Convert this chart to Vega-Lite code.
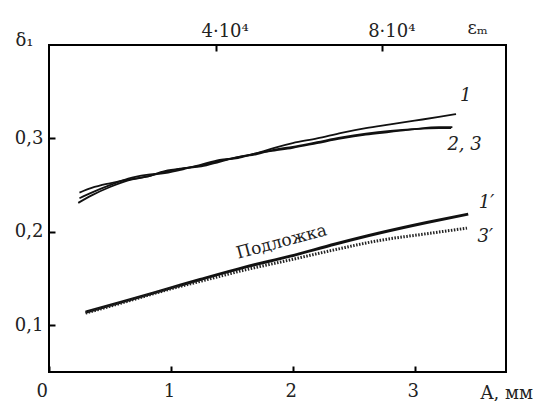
{
  "$schema": "https://vega.github.io/schema/vega-lite/v6.json",
  "width": 457,
  "height": 327,
  "autosize": "none",
  "padding": {"left": 49, "top": 45, "right": 38, "bottom": 29},
  "background": "white",
  "config": {
    "view": {"stroke": "black", "strokeWidth": 2},
    "font": "DejaVu Serif",
    "axis": {
      "domain": false,
      "grid": false,
      "tickColor": "black",
      "tickWidth": 2,
      "tickSize": -6,
      "labelColor": "#222",
      "labelFont": "DejaVu Serif",
      "labelFontSize": 18,
      "titleFont": "DejaVu Serif",
      "titleFontSize": 18,
      "titleFontWeight": "normal",
      "titleColor": "#222"
    }
  },
  "datasets": {
    "curves": [
      {"curve": "1", "A": 0.25, "delta": 0.242},
      {"curve": "1", "A": 0.35, "delta": 0.247},
      {"curve": "1", "A": 0.5, "delta": 0.252},
      {"curve": "1", "A": 0.65, "delta": 0.256},
      {"curve": "1", "A": 0.8, "delta": 0.259},
      {"curve": "1", "A": 0.95, "delta": 0.264},
      {"curve": "1", "A": 1.1, "delta": 0.268},
      {"curve": "1", "A": 1.25, "delta": 0.271},
      {"curve": "1", "A": 1.4, "delta": 0.276},
      {"curve": "1", "A": 1.55, "delta": 0.28},
      {"curve": "1", "A": 1.7, "delta": 0.284},
      {"curve": "1", "A": 1.85, "delta": 0.29},
      {"curve": "1", "A": 2.0, "delta": 0.295},
      {"curve": "1", "A": 2.2, "delta": 0.3},
      {"curve": "1", "A": 2.4, "delta": 0.306},
      {"curve": "1", "A": 2.6, "delta": 0.311},
      {"curve": "1", "A": 2.8, "delta": 0.315},
      {"curve": "1", "A": 3.0, "delta": 0.319},
      {"curve": "1", "A": 3.2, "delta": 0.323},
      {"curve": "1", "A": 3.34, "delta": 0.326},

      {"curve": "2", "A": 0.25, "delta": 0.236},
      {"curve": "2", "A": 0.35, "delta": 0.242},
      {"curve": "2", "A": 0.5, "delta": 0.25},
      {"curve": "2", "A": 0.65, "delta": 0.257},
      {"curve": "2", "A": 0.8, "delta": 0.261},
      {"curve": "2", "A": 0.95, "delta": 0.263},
      {"curve": "2", "A": 1.1, "delta": 0.267},
      {"curve": "2", "A": 1.25, "delta": 0.272},
      {"curve": "2", "A": 1.4, "delta": 0.277},
      {"curve": "2", "A": 1.55, "delta": 0.279},
      {"curve": "2", "A": 1.7, "delta": 0.284},
      {"curve": "2", "A": 1.85, "delta": 0.287},
      {"curve": "2", "A": 2.0, "delta": 0.29},
      {"curve": "2", "A": 2.2, "delta": 0.295},
      {"curve": "2", "A": 2.4, "delta": 0.3},
      {"curve": "2", "A": 2.6, "delta": 0.304},
      {"curve": "2", "A": 2.8, "delta": 0.307},
      {"curve": "2", "A": 3.0, "delta": 0.31},
      {"curve": "2", "A": 3.2, "delta": 0.312},
      {"curve": "2", "A": 3.31, "delta": 0.312},

      {"curve": "3", "A": 0.24, "delta": 0.231},
      {"curve": "3", "A": 0.35, "delta": 0.239},
      {"curve": "3", "A": 0.5, "delta": 0.248},
      {"curve": "3", "A": 0.65, "delta": 0.255},
      {"curve": "3", "A": 0.8, "delta": 0.259},
      {"curve": "3", "A": 0.95, "delta": 0.265},
      {"curve": "3", "A": 1.1, "delta": 0.268},
      {"curve": "3", "A": 1.25, "delta": 0.27},
      {"curve": "3", "A": 1.4, "delta": 0.275},
      {"curve": "3", "A": 1.55, "delta": 0.28},
      {"curve": "3", "A": 1.7, "delta": 0.283},
      {"curve": "3", "A": 1.85, "delta": 0.288},
      {"curve": "3", "A": 2.0, "delta": 0.291},
      {"curve": "3", "A": 2.2, "delta": 0.296},
      {"curve": "3", "A": 2.4, "delta": 0.301},
      {"curve": "3", "A": 2.6, "delta": 0.305},
      {"curve": "3", "A": 2.8, "delta": 0.308},
      {"curve": "3", "A": 3.0, "delta": 0.31},
      {"curve": "3", "A": 3.2, "delta": 0.311},
      {"curve": "3", "A": 3.3, "delta": 0.311},

      {"curve": "1′", "A": 0.3, "delta": 0.114},
      {"curve": "1′", "A": 0.6, "delta": 0.125},
      {"curve": "1′", "A": 1.0, "delta": 0.14},
      {"curve": "1′", "A": 1.24, "delta": 0.149},
      {"curve": "1′", "A": 1.6, "delta": 0.162},
      {"curve": "1′", "A": 1.98, "delta": 0.174},
      {"curve": "1′", "A": 2.35, "delta": 0.187},
      {"curve": "1′", "A": 2.72, "delta": 0.199},
      {"curve": "1′", "A": 3.1, "delta": 0.21},
      {"curve": "1′", "A": 3.44, "delta": 0.219},

      {"curve": "3′", "A": 0.3, "delta": 0.113},
      {"curve": "3′", "A": 0.6, "delta": 0.124},
      {"curve": "3′", "A": 1.0, "delta": 0.139},
      {"curve": "3′", "A": 1.24, "delta": 0.147},
      {"curve": "3′", "A": 1.6, "delta": 0.159},
      {"curve": "3′", "A": 1.98, "delta": 0.17},
      {"curve": "3′", "A": 2.35, "delta": 0.181},
      {"curve": "3′", "A": 2.72, "delta": 0.191},
      {"curve": "3′", "A": 3.1, "delta": 0.198},
      {"curve": "3′", "A": 3.43, "delta": 0.204}
    ],
    "curveLabels": [
      {"text": "1", "A": 3.42, "delta": 0.345},
      {"text": "2, 3", "A": 3.41, "delta": 0.293},
      {"text": "1′", "A": 3.59, "delta": 0.231},
      {"text": "3′", "A": 3.58, "delta": 0.194}
    ],
    "substrate": [
      {"text": "Подложка", "A": 1.92, "delta": 0.184}
    ],
    "strainTicks": [
      {"eps": 0},
      {"eps": 40000},
      {"eps": 80000}
    ]
  },
  "layer": [
    {
      "layer": [
        {
          "data": {"name": "curves"},
          "transform": [{"filter": "datum.curve == '1' || datum.curve == '2' || datum.curve == '3'"}],
          "mark": {"type": "line", "color": "#111", "strokeWidth": 1.8, "interpolate": "monotone"},
          "encoding": {
            "x": {
              "field": "A", "type": "quantitative",
              "scale": {"domain": [0, 3.75], "nice": false, "zero": false},
              "axis": {
                "orient": "bottom",
                "values": [0, 1, 2, 3],
                "format": "d",
                "labelPadding": 16,
                "labelBaseline": "top",
                "labelOffset": {"expr": "datum.value == 0 ? -13 : -2"},
                "title": "A, мм",
                "titleAnchor": "start",
                "titleAlign": "left",
                "titleBaseline": "alphabetic",
                "titleX": 431,
                "titleY": 26
              }
            },
            "y": {
              "field": "delta", "type": "quantitative",
              "scale": {"domain": [0.05, 0.4], "nice": false, "zero": false},
              "axis": {
                "orient": "left",
                "values": [0.1, 0.2, 0.3],
                "labelExpr": "replace(format(datum.value, '.1f'), '.', ',')",
                "labelPadding": 12,
                "title": "δ₁",
                "titleAngle": 0,
                "titleAlign": "center",
                "titleBaseline": "alphabetic",
                "titleX": -25,
                "titleY": 0
              }
            },
            "detail": {"field": "curve"}
          }
        },
        {
          "data": {"name": "curves"},
          "transform": [{"filter": "datum.curve == '1′'"}],
          "mark": {"type": "line", "color": "#111", "strokeWidth": 3, "interpolate": "monotone"},
          "encoding": {
            "x": {"field": "A", "type": "quantitative"},
            "y": {"field": "delta", "type": "quantitative"}
          }
        },
        {
          "data": {"name": "curves"},
          "transform": [{"filter": "datum.curve == '3′'"}],
          "mark": {"type": "line", "color": "#222", "strokeWidth": 3, "strokeDash": [1.5, 1.5], "interpolate": "monotone"},
          "encoding": {
            "x": {"field": "A", "type": "quantitative"},
            "y": {"field": "delta", "type": "quantitative"}
          }
        },
        {
          "data": {"name": "curveLabels"},
          "mark": {"type": "text", "font": "DejaVu Serif", "fontSize": 18, "fontStyle": "italic", "color": "#222", "align": "center", "baseline": "middle"},
          "encoding": {
            "x": {"field": "A", "type": "quantitative"},
            "y": {"field": "delta", "type": "quantitative"},
            "text": {"field": "text"}
          }
        },
        {
          "data": {"name": "substrate"},
          "mark": {"type": "text", "font": "DejaVu Serif", "fontSize": 17, "color": "#222", "align": "center", "baseline": "alphabetic", "angle": -15},
          "encoding": {
            "x": {"field": "A", "type": "quantitative"},
            "y": {"field": "delta", "type": "quantitative"},
            "text": {"field": "text"}
          }
        }
      ]
    },
    {
      "data": {"name": "strainTicks"},
      "mark": {"type": "point", "opacity": 0},
      "encoding": {
        "x": {
          "field": "eps", "type": "quantitative",
          "scale": {"domain": [0, 109700], "nice": false, "zero": false},
          "axis": {
            "orient": "top",
            "values": [40000, 80000],
            "labelExpr": "format(datum.value / 10000, 'd') + '·10⁴'",
            "labelBaseline": "alphabetic",
            "labelPadding": 15,
            "labelOffset": 9,
            "title": "εₘ",
            "titleAnchor": "start",
            "titleAlign": "left",
            "titleBaseline": "alphabetic",
            "titleX": 418,
            "titleY": -12
          }
        }
      }
    }
  ],
  "resolve": {"scale": {"x": "independent"}, "axis": {"x": "independent"}}
}
